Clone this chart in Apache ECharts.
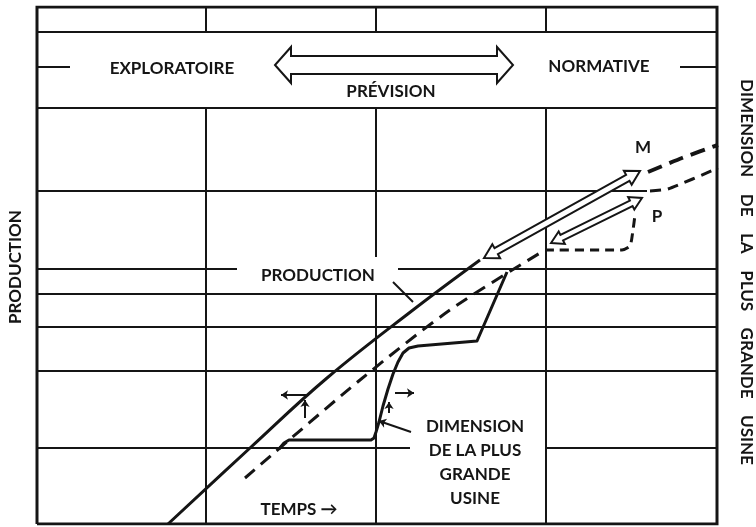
<!DOCTYPE html>
<html>
<head>
<meta charset="utf-8">
<script src="https://cdn.jsdelivr.net/npm/echarts@6/dist/echarts.min.js"></script>
<style>
  html, body { margin: 0; padding: 0; background: #fff; }
  #chart { width: 756px; height: 527px; }
</style>
</head>
<body>
<div id="chart"></div>
<script>
// units: x = time across the frame (0..680), y = production (0..517)

// horizontal rules: [y, xFrom, xTo]
const hRules = [
  [492, 0, 680], [416, 0, 680], [333, 0, 610],
  [255, 0, 200], [255, 361, 680], [230, 0, 680], [197, 0, 680],
  [153, 0, 680], [76, 0, 373], [76, 508, 680]
]
// vertical rules: [x, yFrom, yTo]
const vRules = [
  [169, 492, 517], [169, 0, 416],
  [339, 492, 517], [339, 267, 416], [339, 0, 231],
  [509, 492, 517], [509, 0, 416]
]
const frame = [[0, 0], [680, 0], [680, 517], [0, 517], [0, 0]]
const bandTicks = [[0, 33, 457], [643, 680, 457]]

const productionCurve = [[131, 0], [213, 76], [290, 146], [376, 214], [443, 264]]
const plantTrend = [[208, 46], [323, 144], [413, 214], [508, 274]]
const plantStep = [
  [242, 75], [247, 81], [252, 84], [334, 84], [337, 86], [339, 92], [342, 102], [346, 118],
  [351, 135], [356, 150], [361, 162], [366, 171], [372, 176], [381, 178], [440, 183], [470, 252]
]
const plantPlan = [[508, 274], [585, 274], [593, 278], [596, 294], [598, 309]]
const projectionM = [[611, 352], [645, 366], [681, 379]]
const projectionP = [[613, 333], [631, 335], [681, 356]]

// hollow double arrows: [x1, y1, x2, y2]
const forecastArrow = [238, 459, 476, 459]
const arrowM = [447, 266, 603, 353]
const arrowP = [514, 281, 605, 326]

// small arrows and leader lines: [x1, y1, x2, y2]
const shiftArrows = [[268, 106, 268, 124], [270, 129, 244, 129], [358, 131, 377, 131], [352, 111, 352, 122]]
const leaders = [[356, 242, 376, 222]]
const leaderArrows = [[374, 92, 342, 103]]

const ink = '#151515'
const font = 'bold 17px Lato, "DejaVu Sans", sans-serif'

function segs(list) {
  return list.map(s => ({ coords: [[s[0], s[1]], [s[2], s[3]]] }))
}

function doubleArrow(shaft, head, headLen) {
  return function (params, api) {
    const a = api.coord([api.value(0), api.value(1)])
    const b = api.coord([api.value(2), api.value(3)])
    const len = Math.hypot(b[0] - a[0], b[1] - a[1])
    const ux = (b[0] - a[0]) / len, uy = (b[1] - a[1]) / len
    const nx = -uy, ny = ux
    const p = (o, d, w) => [o[0] + ux * d + nx * w, o[1] + uy * d + ny * w]
    const points = [
      a, p(a, headLen, head), p(a, headLen, shaft), p(b, -headLen, shaft), p(b, -headLen, head),
      b, p(b, -headLen, -head), p(b, -headLen, -shaft), p(a, headLen, -shaft), p(a, headLen, -head)
    ]
    return {
      type: 'polygon',
      shape: { points },
      style: { fill: '#fff', stroke: ink, lineWidth: 2, lineJoin: 'miter' }
    }
  }
}

function curve(data, width, dash, smooth) {
  return {
    type: 'line', data, smooth, symbol: 'none', silent: true, z: 3,
    lineStyle: { color: ink, width, type: dash || 'solid', cap: 'butt', join: 'round' }
  }
}

function text(str, x, y, extra) {
  return Object.assign({
    type: 'text', x, y, silent: true,
    style: { text: str, font, fill: ink, align: 'center', verticalAlign: 'middle', lineHeight: 24 }
  }, extra || {})
}

const chart = echarts.init(document.getElementById('chart'), null, { renderer: 'canvas' })
chart.setOption({
  animation: false,
  backgroundColor: '#fff',
  grid: { left: 37, right: 39, top: 7, bottom: 3 },
  xAxis: { type: 'value', min: 0, max: 680, show: false },
  yAxis: { type: 'value', min: 0, max: 517, show: false },
  series: [
    {
      type: 'lines', coordinateSystem: 'cartesian2d', silent: true, z: 1,
      lineStyle: { color: ink, width: 2, opacity: 1 },
      data: segs(hRules.map(r => [r[1], r[0], r[2], r[0]])
        .concat(vRules.map(r => [r[0], r[1], r[0], r[2]]))
        .concat(bandTicks.map(r => [r[0], r[2], r[1], r[2]])))
    },
    {
      type: 'lines', coordinateSystem: 'cartesian2d', polyline: true, silent: true, z: 2,
      lineStyle: { color: ink, width: 3, opacity: 1 },
      data: [{ coords: frame }]
    },
    curve(productionCurve, 3, null, 0.4),
    curve(plantTrend, 3, [13, 8], 0.3),
    curve(plantStep, 3, null, false),
    curve(plantPlan, 3, [9, 6], 0.2),
    curve(projectionM, 4, [15, 8], 0.2),
    curve(projectionP, 3, [11, 7], 0.2),
    {
      type: 'lines', coordinateSystem: 'cartesian2d', silent: true, z: 4,
      symbol: ['none', 'arrow'], symbolSize: 7,
      lineStyle: { color: ink, width: 2, opacity: 1 },
      data: segs(shiftArrows.concat(leaderArrows))
    },
    {
      type: 'lines', coordinateSystem: 'cartesian2d', silent: true, z: 4,
      lineStyle: { color: ink, width: 2, opacity: 1 },
      data: segs(leaders)
    },
    { type: 'custom', coordinateSystem: 'cartesian2d', renderItem: doubleArrow(9, 18, 16), data: [forecastArrow], z: 5, silent: true },
    { type: 'custom', coordinateSystem: 'cartesian2d', renderItem: doubleArrow(3.5, 8, 14), data: [arrowM], z: 5, silent: true },
    { type: 'custom', coordinateSystem: 'cartesian2d', renderItem: doubleArrow(3, 7, 12), data: [arrowP], z: 5, silent: true }
  ],
  graphic: [
    text('EXPLORATOIRE', 172, 69),
    text('NORMATIVE', 599, 67),
    text('PRÉVISION', 391, 92),
    text('PRODUCTION', 318, 276),
    text('M', 643, 148),
    text('P', 657, 217),
    text('DIMENSION\nDE LA PLUS\nGRANDE\nUSINE', 475, 463),
    text('TEMPS →', 299, 510),
    text('PRODUCTION', 16, 267, { rotation: Math.PI / 2 }),
    text('DIMENSION    DE    LA    PLUS    GRANDE    USINE', 746, 272, { rotation: -Math.PI / 2 })
  ]
})
</script>
</body>
</html>
